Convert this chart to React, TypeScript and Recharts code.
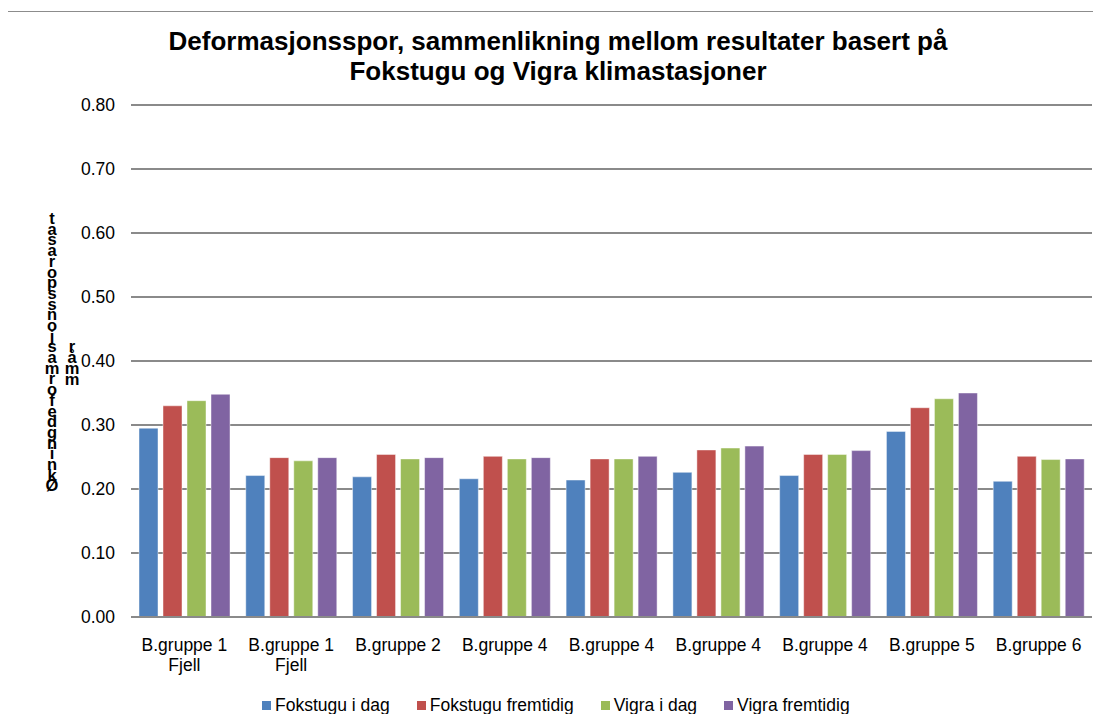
import React from "react"
import { Bar, BarChart, CartesianGrid, Legend, XAxis, YAxis } from "recharts"

const categories = [
  "B.gruppe 1\nFjell",
  "B.gruppe 1\nFjell",
  "B.gruppe 2",
  "B.gruppe 4",
  "B.gruppe 4",
  "B.gruppe 4",
  "B.gruppe 4",
  "B.gruppe 5",
  "B.gruppe 6",
]
const fokstuguIDag = [0.295, 0.221, 0.219, 0.216, 0.214, 0.226, 0.221, 0.29, 0.212]
const fokstuguFremtidig = [0.33, 0.249, 0.254, 0.251, 0.247, 0.261, 0.254, 0.327, 0.251]
const vigraIDag = [0.338, 0.244, 0.247, 0.247, 0.247, 0.264, 0.254, 0.341, 0.246]
const vigraFremtidig = [0.348, 0.249, 0.249, 0.249, 0.251, 0.267, 0.26, 0.35, 0.247]
const yTicks = [0, 0.1, 0.2, 0.3, 0.4, 0.5, 0.6, 0.7, 0.8]

const series = [
  { key: "fokstuguIDag", name: "Fokstugu i dag", color: "#4F81BD" },
  { key: "fokstuguFremtidig", name: "Fokstugu fremtidig", color: "#C0504D" },
  { key: "vigraIDag", name: "Vigra i dag", color: "#9BBB59" },
  { key: "vigraFremtidig", name: "Vigra fremtidig", color: "#8064A2" },
]

const data = categories.map((name, i) => ({
  name,
  fokstuguIDag: fokstuguIDag[i],
  fokstuguFremtidig: fokstuguFremtidig[i],
  vigraIDag: vigraIDag[i],
  vigraFremtidig: vigraFremtidig[i],
}))

// stacked y-axis title, drawn the way the original export garbled it
const labelCol1 = "tasaropssnojsamrofedgninkØ"
const labelCol2 = "råmm"

const font = "'Liberation Sans', Arial, sans-serif"

function CategoryTick(props: any) {
  const { x, y, payload } = props
  const lines = String(payload.value).split("\n")
  return (
    <text x={x} y={y} textAnchor="middle" fill="#000" fontSize={17.5} fontFamily={font}>
      {lines.map((l, i) => (
        <tspan key={i} x={x} dy={i === 0 ? 34 : 20}>
          {l}
        </tspan>
      ))}
    </text>
  )
}

function StackedLabel() {
  return (
    <g fontFamily={font} fontSize={16.5} fontWeight="bold" fill="#000" textAnchor="middle">
      <text x={52} y={224}>
        {labelCol1.split("").map((c, i) => (
          <tspan key={i} x={52} dy={i === 0 ? 0 : 10.7}>
            {c}
          </tspan>
        ))}
      </text>
      <text x={72} y={352}>
        {labelCol2.split("").map((c, i) => (
          <tspan key={i} x={72} dy={i === 0 ? 0 : 11}>
            {c}
          </tspan>
        ))}
      </text>
    </g>
  )
}

function renderLegend() {
  return (
    <div style={{ display: "flex", fontFamily: font, fontSize: 17.5, color: "#000", whiteSpace: "nowrap" }}>
      {series.map((s) => (
        <div key={s.key} style={{ display: "flex", alignItems: "center", marginRight: 27 }}>
          <span style={{ display: "inline-block", width: 9, height: 9, background: s.color, marginRight: 4 }} />
          <span>{s.name}</span>
        </div>
      ))}
    </div>
  )
}

export default function App() {
  return (
    <div style={{ position: "relative", margin: -8, width: 1101, height: 722, background: "#fff", fontFamily: font }}>
      <div
        style={{
          position: "absolute",
          left: 4,
          top: 11,
          width: 1110,
          height: 730,
          border: "1.5px solid #8c8c8c",
          boxSizing: "border-box",
        }}
      />
      <div
        style={{
          position: "absolute",
          left: 0,
          top: 26,
          width: 1116,
          textAlign: "center",
          fontWeight: "bold",
          fontSize: 26,
          lineHeight: "30px",
          color: "#000",
        }}
      >
        Deformasjonsspor, sammenlikning mellom resultater basert på
        <br />
        Fokstugu og Vigra klimastasjoner
      </div>
      <div style={{ position: "absolute", left: 0, top: 0 }}>
        <BarChart
          width={1101}
          height={722}
          data={data}
          margin={{ top: 105, right: 9, bottom: 54, left: 0 }}
          barCategoryGap={8}
          barGap={5}
        >
          <CartesianGrid vertical={false} stroke="#8a8a8a" strokeWidth={2} />
          <XAxis
            dataKey="name"
            tickLine={false}
            tickSize={0}
            tickMargin={0}
            axisLine={{ stroke: "#8a8a8a", strokeWidth: 2 }}
            tick={<CategoryTick />}
            interval={0}
          />
          <YAxis
            width={131}
            domain={[0, 0.8]}
            ticks={yTicks}
            tickFormatter={(v: number) => v.toFixed(2)}
            tickLine={false}
            axisLine={false}
            tickSize={0}
            tickMargin={16}
            tick={{ fill: "#000", fontSize: 17.5, fontFamily: font }}
            label={{ content: () => <StackedLabel /> }}
          />
          <Legend
            layout="vertical"
            align="center"
            verticalAlign="bottom"
            content={renderLegend}
            wrapperStyle={{ left: 262, top: 695, bottom: "auto", width: "auto" }}
          />
          {series.map((s) => (
            <Bar
              key={s.key}
              dataKey={s.key}
              name={s.name}
              fill={s.color}
              stroke="rgba(255,255,255,0.45)"
              strokeWidth={1}
              isAnimationActive={false}
            />
          ))}
        </BarChart>
      </div>
    </div>
  )
}
